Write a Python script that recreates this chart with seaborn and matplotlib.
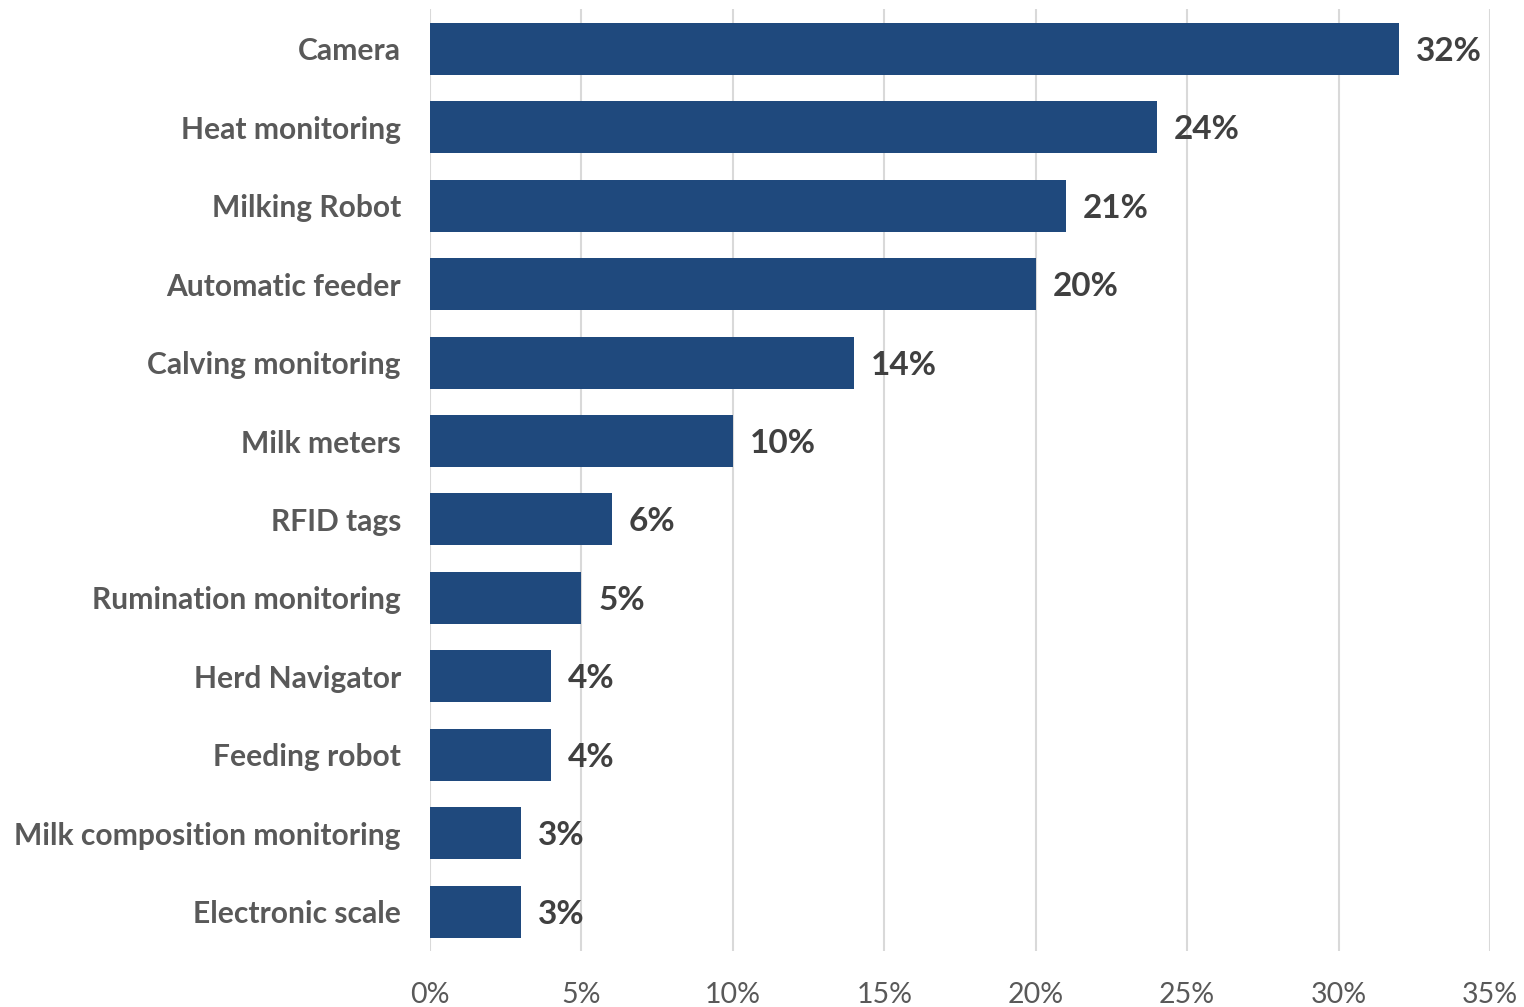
import matplotlib
matplotlib.use("Agg")
import matplotlib.pyplot as plt
import seaborn as sns
import pandas as pd
from matplotlib.ticker import MultipleLocator, FuncFormatter

categories = [
    "Camera", "Heat monitoring", "Milking Robot", "Automatic feeder",
    "Calving monitoring", "Milk meters", "RFID tags", "Rumination monitoring",
    "Herd Navigator", "Feeding robot", "Milk composition monitoring",
    "Electronic scale",
]
shares = [32, 24, 21, 20, 14, 10, 6, 5, 4, 4, 3, 3]

df = pd.DataFrame({"technology": categories, "share": shares})

sns.set_theme(style="white")
plt.rcParams["font.family"] = ["Lato", "DejaVu Sans"]

fig = plt.figure(figsize=(15.24, 10.07), dpi=100)
ax = fig.add_axes([0.2822, 0.0556, 0.6955, 0.935])

sns.barplot(data=df, x="share", y="technology", orient="h",
            color="#1F497D", saturation=1, width=0.663, ax=ax,
            edgecolor="#1F497D", linewidth=0)

ax.set_xlim(0, 35)
ax.set_ylim(len(categories) - 0.5, -0.5)
ax.xaxis.set_major_locator(MultipleLocator(5))
ax.xaxis.set_major_formatter(FuncFormatter(lambda v, _: f"{v:.0f}%"))
ax.grid(axis="x", color="#D9D9D9", linewidth=1.5)
ax.set_axisbelow(True)
for s in ax.spines.values():
    s.set_visible(False)
ax.set_xlabel("")
ax.set_ylabel("")

ax.tick_params(axis="y", length=0, pad=21, labelsize=21.6, labelcolor="#595959")
ax.tick_params(axis="x", length=0, pad=22, labelsize=20.5, labelcolor="#595959")
for lbl in ax.get_yticklabels():
    lbl.set_fontweight("bold")

for i, v in enumerate(shares):
    ax.annotate(f"{v}%", xy=(v, i), xytext=(12, 0), textcoords="offset points",
                ha="left", va="center_baseline", fontsize=24, fontweight="bold",
                color="#404040")

fig.savefig("out.png", dpi=100)
